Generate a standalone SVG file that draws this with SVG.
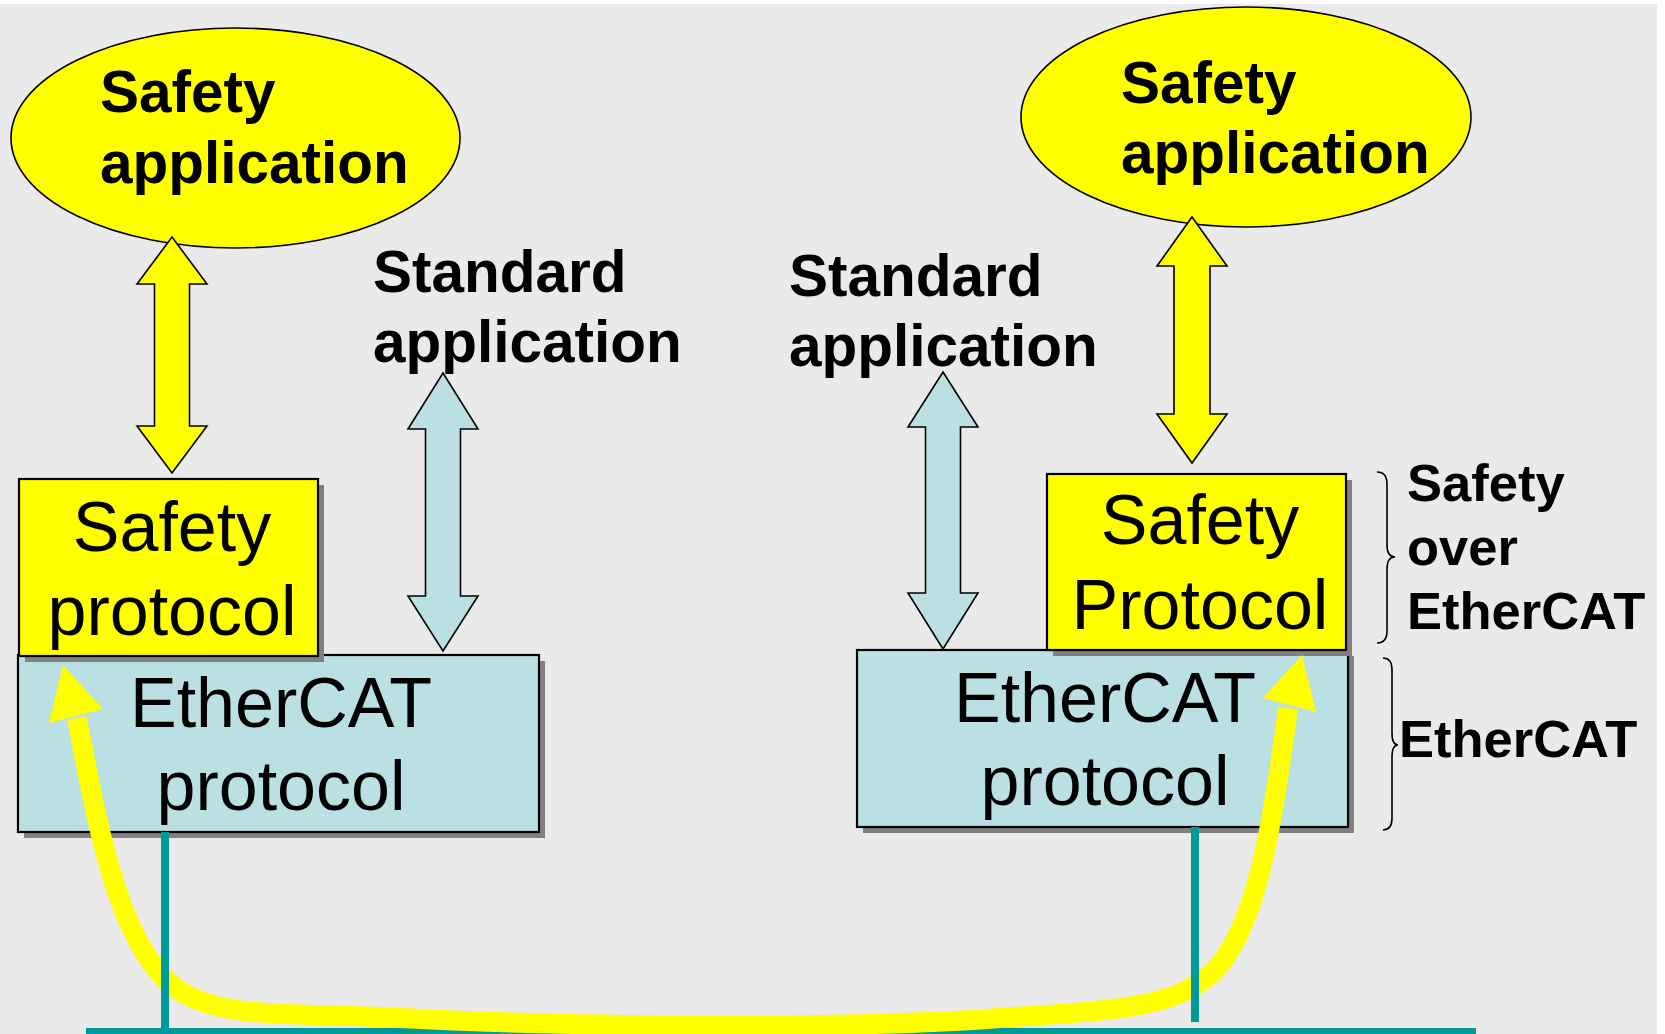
<svg xmlns="http://www.w3.org/2000/svg" width="1665" height="1034" viewBox="0 0 1665 1034">
<style>
.bold{font-family:"Liberation Sans",Arial,sans-serif;font-weight:bold;fill:#000}
.reg{font-family:"Liberation Sans",Arial,sans-serif;font-weight:normal;fill:#000}
.yel{fill:#FFFF00;stroke:#000;stroke-width:1.6}
.blu{fill:#BAE0E3;stroke:#000;stroke-width:1.6}
.boxy{fill:#FFFF00;stroke:#000;stroke-width:2.2}
.boxb{fill:#BAE0E3;stroke:#000;stroke-width:2.2}
.shadow{fill:#808080}
.teal{fill:#009999}
.brace{fill:none;stroke:#000;stroke-width:1.6}
</style>
<rect x="0" y="0" width="1665" height="1034" fill="#FFFFFF"/>
<rect x="0" y="4" width="1657" height="1030" fill="#EAEAEA"/>

<g id="safety-app-left">
  <ellipse class="yel" cx="235.5" cy="138" rx="224.5" ry="110"/>
  <text class="bold" font-size="58.5" x="100" y="112">Safety</text>
  <text class="bold" font-size="58.5" x="100" y="183">application</text>
</g>
<g id="safety-app-right">
  <ellipse class="yel" cx="1246" cy="117" rx="225" ry="110"/>
  <text class="bold" font-size="58.5" x="1121" y="103">Safety</text>
  <text class="bold" font-size="58.5" x="1121" y="173">application</text>
</g>
<g id="std-app-left">
  <text class="bold" font-size="58.5" x="373" y="292">Standard</text>
  <text class="bold" font-size="58.5" x="373" y="362">application</text>
</g>
<g id="std-app-right">
  <text class="bold" font-size="58.5" x="789" y="296">Standard</text>
  <text class="bold" font-size="58.5" x="789" y="366">application</text>
</g>

<g id="connectors">
  <polygon class="yel" points="172,237 207,284 189.5,284 189.5,426 207,426 172,473 137,426 154.5,426 154.5,284 137,284"/>
  <polygon class="yel" points="1192,217 1227,266 1210,266 1210,414 1227,414 1192,463 1157,414 1174,414 1174,266 1157,266"/>
  <polygon class="blu" points="443,373 478,429 460.5,429 460.5,596 478,596 443,651 408,596 425.5,596 425.5,429 408,429"/>
  <polygon class="blu" points="943,372 978,427 960.5,427 960.5,593 978,593 943,649 908,593 925.5,593 925.5,427 908,427"/>
</g>

<g id="ethercat-left">
  <rect class="shadow" x="24" y="661" width="521" height="177"/>
  <rect class="boxb" x="18" y="655" width="521" height="177"/>
  <text class="reg" font-size="70" x="281" y="727" text-anchor="middle">EtherCAT</text>
  <text class="reg" font-size="70" x="281" y="810" text-anchor="middle">protocol</text>
</g>
<g id="safety-protocol-left">
  <rect class="shadow" x="25" y="485" width="299" height="177"/>
  <rect class="boxy" x="19" y="479" width="299" height="177"/>
  <text class="reg" font-size="70" x="172" y="551" text-anchor="middle">Safety</text>
  <text class="reg" font-size="70" x="172" y="635" text-anchor="middle">protocol</text>
</g>
<g id="ethercat-right">
  <rect class="shadow" x="863" y="656" width="491" height="177"/>
  <rect class="boxb" x="857" y="650" width="491" height="177"/>
  <text class="reg" font-size="70" x="1105" y="722" text-anchor="middle">EtherCAT</text>
  <text class="reg" font-size="70" x="1105" y="805" text-anchor="middle">protocol</text>
</g>
<g id="safety-protocol-right">
  <rect class="shadow" x="1053" y="480" width="299" height="176"/>
  <rect class="boxy" x="1047" y="474" width="299" height="176"/>
  <text class="reg" font-size="70" x="1200" y="544" text-anchor="middle">Safety</text>
  <text class="reg" font-size="70" x="1200" y="629" text-anchor="middle">Protocol</text>
</g>

<g id="bus">
  <rect class="teal" x="86" y="1028" width="1390" height="6"/>
</g>
<g id="safety-path">
  <path d="M77,718 C98,830 118,935 168,982 C210,1020 280,1012 400,1018 C550,1026 850,1030 1000,1018 C1120,1010 1170,1008 1210,975 C1255,935 1272,830 1288,708" fill="none" stroke="#FFFF00" stroke-width="20"/>
  <polygon points="63,665 49,723 103,709" fill="#FFFF00"/>
  <polygon points="1302,655 1263,698 1316,712" fill="#FFFF00"/>
</g>
<g id="drops">
  <rect class="teal" x="161" y="832" width="8" height="196"/>
  <rect class="teal" x="1191" y="827" width="8" height="195"/>
</g>

<g id="label-safety-over">
  <path class="brace" d="M1377,472 Q1387,472 1387,484 L1387,545 Q1387,557 1395,557 Q1387,557 1387,569 L1387,631 Q1387,643 1377,643"/>
  <text class="bold" font-size="52.5" x="1407" y="501">Safety</text>
  <text class="bold" font-size="52.5" x="1407" y="565">over</text>
  <text class="bold" font-size="52.5" x="1407" y="629">EtherCAT</text>
</g>
<g id="label-ethercat">
  <path class="brace" d="M1383,658 Q1392,658 1392,670 L1392,733 Q1392,745 1398,745 Q1392,745 1392,757 L1392,818 Q1392,830 1383,830"/>
  <text class="bold" font-size="52.5" x="1399" y="757">EtherCAT</text>
</g>
</svg>
